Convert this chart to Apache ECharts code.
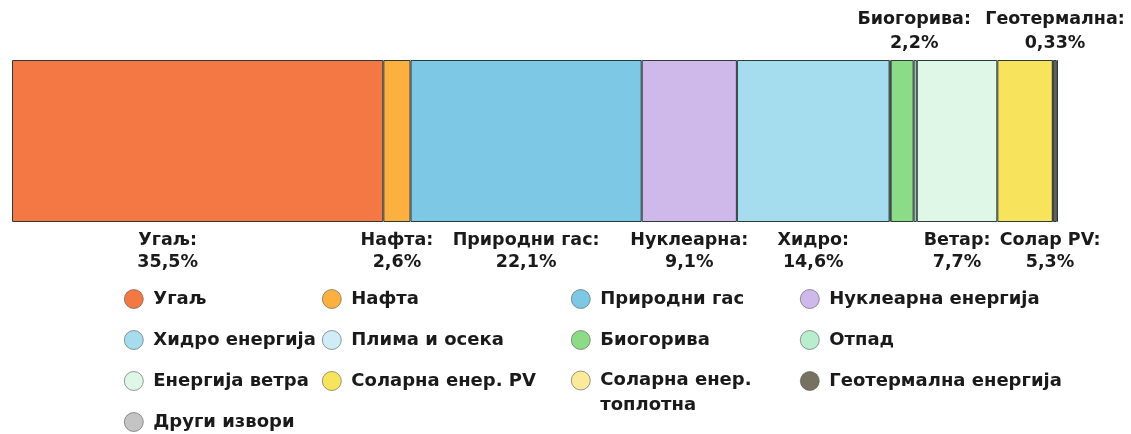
<!DOCTYPE html>
<html>
<head>
<meta charset="utf-8">
<script src="https://cdn.jsdelivr.net/npm/echarts@6/dist/echarts.min.js"></script>
<style>
  html, body { margin: 0; padding: 0; background: #fff; }
  #main { width: 1131px; height: 434px; }
</style>
</head>
<body>
<div id="main"></div>
<script>
var names = ['Угаљ', 'Нафта', 'Природни гас', 'Нуклеарна енергија', 'Хидро енергија',
  'Плима и осека', 'Биогорива', 'Отпад', 'Енергија ветра', 'Соларна енер. PV',
  'Соларна енер. топлотна', 'Геотермална енергија', 'Други извори'];
var values = [35.5, 2.6, 22.1, 9.1, 14.6, 0.1, 2.2, 0.3, 7.7, 5.3, 0.05, 0.33, 0.12];
var labelNames = ['Угаљ', 'Нафта', 'Природни гас', 'Нуклеарна', 'Хидро',
  '', 'Биогорива', '', 'Ветар', 'Солар PV', '', 'Геотермална', ''];
var colors = ['#F37843', '#FBB040', '#7DC8E4', '#CFB9EA', '#A6DDEE', '#D0EDF7',
  '#8BDB87', '#B9EDD0', '#DFF7E6', '#F8E45C', '#FBEA9A', '#767160', '#C4C4C4'];

// legend blocks (indexes into names); the two-line item gets its own block
var legendCols = [[0, 4, 8, 12], [1, 5, 9], [2, 6], [3, 7, 11], [10]];
var legendLeft = [124, 322, 571, 800, 571];
var legendTop = [289, 289, 289, 289, 343];

var total = values.reduce(function (a, b) { return a + b; }, 0);
var myChart = echarts.init(document.getElementById('main'));

var series = names.map(function (n, i) {
  var above = (n === 'Биогорива' || n === 'Геотермална енергија');
  var dx = 0;
  if (n === 'Угаљ') dx = -30;
  if (n === 'Соларна енер. PV') dx = 25;
  if (n === 'Биогорива') dx = 12;
  return {
    name: n,
    type: 'bar',
    stack: 'all',
    barWidth: 162,
    data: [values[i]],
    itemStyle: { color: colors[i], borderColor: '#2d3a3a', borderWidth: 1 },
    label: {
      show: labelNames[i] !== '',
      position: above ? 'top' : 'bottom',
      distance: above ? 5 : 7,
      offset: [dx, 0],
      formatter: labelNames[i] + ':\n' + String(values[i]).replace('.', ',') + '%',
      fontFamily: 'DejaVu Sans',
      fontWeight: 'bold',
      fontSize: 17.5,
      lineHeight: above ? 24 : 22,
      color: '#1a1a1a',
      align: 'center'
    }
  };
});

var legends = legendCols.map(function (col, k) {
  return {
    orient: 'vertical',
    left: legendLeft[k],
    top: legendTop[k],
    height: 200,
    padding: 0,
    itemGap: 21,
    itemWidth: 19,
    itemHeight: 19,
    icon: 'circle',
    selectedMode: false,
    data: col.map(function (i) {
      if (names[i] === 'Соларна енер. топлотна') {
        return { name: names[i], textStyle: { lineHeight: 25 } };
      }
      return names[i];
    }),
    itemStyle: { borderColor: '#555', borderWidth: 0.6 },
    // two-line name: a blank first line keeps the dot beside "Соларна енер."
    formatter: function (n) { return n.replace('Соларна енер. топлотна', '\nСоларна енер.\nтоплотна'); },
    textStyle: {
      fontFamily: 'DejaVu Sans',
      fontWeight: 'bold',
      fontSize: 18,
      lineHeight: 20,
      color: '#1a1a1a',
      padding: [0, 0, 0, 5]
    }
  };
});

option = {
  animation: false,
  color: colors,
  legend: legends,
  grid: { left: 12, right: 73, top: 60, bottom: 212 },
  xAxis: { type: 'value', min: 0, max: total, show: false },
  yAxis: { type: 'category', data: [''], show: false },
  series: series
};
myChart.setOption(option);
</script>
</body>
</html>
